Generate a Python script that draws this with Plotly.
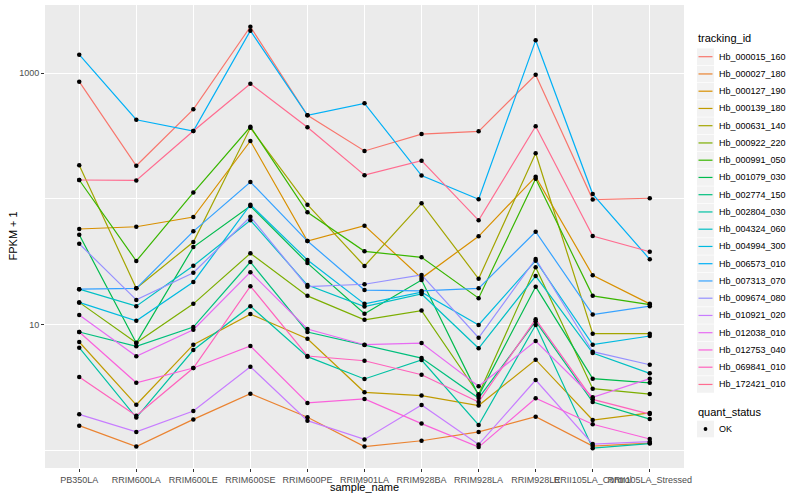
import plotly.graph_objects as go

samples = ["PB350LA", "RRIM600LA", "RRIM600LE", "RRIM600SE", "RRIM600PE", "RRIM901LA",
           "RRIM928BA", "RRIM928LA", "RRIM928LE", "RRII105LA_Control", "RRII105LA_Stressed"]

tracking_ids = ["Hb_000015_160", "Hb_000027_180", "Hb_000127_190", "Hb_000139_180", "Hb_000631_140",
                "Hb_000922_220", "Hb_000991_050", "Hb_001079_030", "Hb_002774_150", "Hb_002804_030",
                "Hb_004324_060", "Hb_004994_300", "Hb_006573_010", "Hb_007313_070", "Hb_009674_080",
                "Hb_010921_020", "Hb_012038_010", "Hb_012753_040", "Hb_069841_010", "Hb_172421_010"]

colors = ["#F8766D", "#EA8331", "#D89000", "#C09B00", "#A3A500", "#7CAE00", "#39B600", "#00BB4E",
          "#00BF7D", "#00C1A3", "#00BFC4", "#00BAE0", "#00B0F6", "#35A2FF", "#9590FF", "#C77CFF",
          "#E76BF3", "#FA62DB", "#FF62BC", "#FF6C90"]

# FPKM + 1 per sample (order of `samples`)
fpkm_000015_160 = [853, 183, 514, 2333, 461, 240, 327, 344, 969, 98.6, 101]
fpkm_000027_180 = [1.57, 1.07, 1.76, 2.82, 1.83, 1.07, 1.19, 1.40, 1.85, 1.08, 1.14]
fpkm_000127_190 = [57.5, 59.9, 71.6, 288, 46.1, 61.1, 23.4, 50.3, 150, 24.6, 14.6]
fpkm_000139_180 = [7.26, 2.30, 6.91, 12.1, 7.71, 2.89, 2.72, 2.27, 5.25, 1.74, 1.98]
fpkm_000631_140 = [185, 19.4, 45.3, 367, 89.7, 29.2, 92.0, 23.1, 230, 8.45, 8.45]
fpkm_000922_220 = [15.0, 7.17, 14.6, 36.8, 16.9, 10.9, 12.9, 2.79, 28.5, 3.09, 2.80]
fpkm_000991_050 = [141, 32.0, 112, 374, 78.0, 38.2, 34.2, 16.2, 144, 16.9, 14.4]
fpkm_001079_030 = [51.8, 7.12, 41.3, 87.5, 30.8, 12.2, 22.6, 2.72, 20.0, 3.71, 3.44]
fpkm_002774_150 = [8.72, 6.71, 9.55, 31.4, 8.72, 6.87, 5.41, 2.60, 10.6, 2.42, 1.77]
fpkm_002804_030 = [6.54, 1.82, 6.27, 14.0, 5.55, 3.69, 5.22, 1.59, 9.91, 1.04, 1.13]
fpkm_004324_060 = [19.1, 14.0, 29.3, 67.4, 20.6, 13.9, 17.5, 6.47, 24.3, 5.93, 4.09]
fpkm_004994_300 = [15.0, 10.7, 21.8, 89.7, 32.6, 14.6, 18.1, 9.91, 32.2, 6.91, 8.10]
fpkm_006573_010 = [1399, 425, 346, 2169, 461, 574, 153, 99.0, 1820, 109, 33.0]
fpkm_007313_070 = [19.1, 19.4, 55.1, 136, 46.1, 18.8, 18.5, 19.4, 54.7, 12.0, 14.0]
fpkm_009674_080 = [43.9, 15.7, 25.8, 72.0, 20.0, 20.9, 24.8, 7.85, 33.2, 6.08, 4.79]
fpkm_010921_020 = [1.93, 1.40, 2.05, 4.62, 1.72, 1.22, 2.29, 1.11, 3.62, 1.12, 1.17]
fpkm_012038_010 = [11.9, 5.59, 9.09, 26.1, 9.21, 6.91, 7.12, 3.23, 7.39, 2.64, 3.71]
fpkm_012753_040 = [8.72, 3.44, 4.51, 6.75, 2.38, 2.56, 1.63, 1.06, 2.59, 1.61, 1.23]
fpkm_069841_010 = [3.83, 1.88, 4.51, 20.2, 5.62, 5.15, 3.99, 2.42, 11.0, 2.54, 1.94]
fpkm_172421_010 = [141, 140, 346, 822, 370, 154, 201, 67.4, 377, 50.6, 37.9]

series = [fpkm_000015_160, fpkm_000027_180, fpkm_000127_190, fpkm_000139_180, fpkm_000631_140,
          fpkm_000922_220, fpkm_000991_050, fpkm_001079_030, fpkm_002774_150, fpkm_002804_030,
          fpkm_004324_060, fpkm_004994_300, fpkm_006573_010, fpkm_007313_070, fpkm_009674_080,
          fpkm_010921_020, fpkm_012038_010, fpkm_012753_040, fpkm_069841_010, fpkm_172421_010]

quant_status = ["OK"]

y_ticks = [10, 1000]
y_minor = [1, 100]

FONT = "Liberation Sans, Arial, sans-serif"
W, H = 800, 500
L, R, T, B = 45, 116, 5, 32
PW, PH = W - L - R, H - T - B


def px_x(px):
    return (px - L) / PW


def px_y(py):
    return (H - B - py) / PH


fig = go.Figure()
for name, vals, col in zip(tracking_ids, series, colors):
    fig.add_trace(go.Scatter(x=samples, y=vals, mode="lines", name=name,
                             line=dict(color=col, width=1.2), showlegend=False))

all_x = [s for vals in series for s in samples]
all_y = [v for vals in series for v in vals]
fig.add_trace(go.Scatter(x=all_x, y=all_y, mode="markers", name=quant_status[0],
                         marker=dict(color="black", size=4.5), showlegend=False))

shapes = []
annotations = []

# axis titles
annotations.append(dict(text="sample_name", xref="paper", yref="paper", x=0.5, y=px_y(487),
                        xanchor="center", yanchor="middle", showarrow=False,
                        font=dict(size=11, color="black")))
annotations.append(dict(text="FPKM + 1", xref="paper", yref="paper", x=px_x(12), y=0.5,
                        xanchor="center", yanchor="middle", showarrow=False, textangle=-90,
                        font=dict(size=11, color="black")))

# legend: tracking_id
annotations.append(dict(text="tracking_id", xref="paper", yref="paper", x=px_x(696), y=px_y(38),
                        xanchor="left", yanchor="middle", showarrow=False,
                        font=dict(size=11, color="black")))
step = 17.25
for i, (name, col) in enumerate(zip(tracking_ids, colors)):
    cy = 56.7 + i * step
    shapes.append(dict(type="rect", xref="paper", yref="paper",
                       x0=px_x(697), x1=px_x(714), y0=px_y(cy - 8.3), y1=px_y(cy + 8.3),
                       fillcolor="#F2F2F2", line=dict(width=0), layer="below"))
    shapes.append(dict(type="line", xref="paper", yref="paper",
                       x0=px_x(698.5), x1=px_x(712.5), y0=px_y(cy), y1=px_y(cy),
                       line=dict(color=col, width=1.2)))
    annotations.append(dict(text=name, xref="paper", yref="paper", x=px_x(716.5), y=px_y(cy),
                            xanchor="left", yanchor="middle", showarrow=False,
                            font=dict(size=9, color="black")))

# legend: quant_status
annotations.append(dict(text="quant_status", xref="paper", yref="paper", x=px_x(696), y=px_y(412),
                        xanchor="left", yanchor="middle", showarrow=False,
                        font=dict(size=11, color="black")))
cy = 429
shapes.append(dict(type="rect", xref="paper", yref="paper",
                   x0=px_x(697), x1=px_x(714), y0=px_y(cy - 8.3), y1=px_y(cy + 8.3),
                   fillcolor="#F2F2F2", line=dict(width=0), layer="below"))
shapes.append(dict(type="circle", xref="paper", yref="paper",
                   x0=px_x(703.6), x1=px_x(707.4), y0=px_y(cy + 1.9), y1=px_y(cy - 1.9),
                   fillcolor="black", line=dict(width=0)))
annotations.append(dict(text=quant_status[0], xref="paper", yref="paper", x=px_x(716.5), y=px_y(cy),
                        xanchor="left", yanchor="middle", showarrow=False,
                        font=dict(size=9, color="black")))

fig.update_layout(
    width=W, height=H,
    margin=dict(l=L, r=R, t=T, b=B, autoexpand=False),
    paper_bgcolor="white", plot_bgcolor="#EBEBEB",
    font=dict(family=FONT, size=9, color="#4D4D4D"),
    showlegend=False,
    shapes=shapes, annotations=annotations,
)

fig.update_xaxes(
    type="category", categoryorder="array", categoryarray=samples,
    range=[-0.6, len(samples) - 0.4], tickangle=0, automargin=False,
    showgrid=True, gridcolor="white", gridwidth=1.1,
    ticks="outside", ticklen=3, tickcolor="#333333", tickwidth=1,
    tickfont=dict(size=9, color="#4D4D4D"),
    zeroline=False, showline=False,
)

fig.update_yaxes(
    type="log", range=[-0.141, 3.541], automargin=False,
    tickvals=y_ticks, ticktext=[str(v) for v in y_ticks],
    showgrid=True, gridcolor="white", gridwidth=1.1,
    minor=dict(tickvals=y_minor, showgrid=True, gridcolor="white", gridwidth=0.5, ticks=""),
    ticks="outside", ticklen=3, tickcolor="#333333", tickwidth=1,
    tickfont=dict(size=9, color="#4D4D4D"),
    zeroline=False, showline=False,
)

fig.write_html("out.html", config={"displayModeBar": False},
               post_script="document.body.style.margin='0';document.body.style.overflow='hidden';")
